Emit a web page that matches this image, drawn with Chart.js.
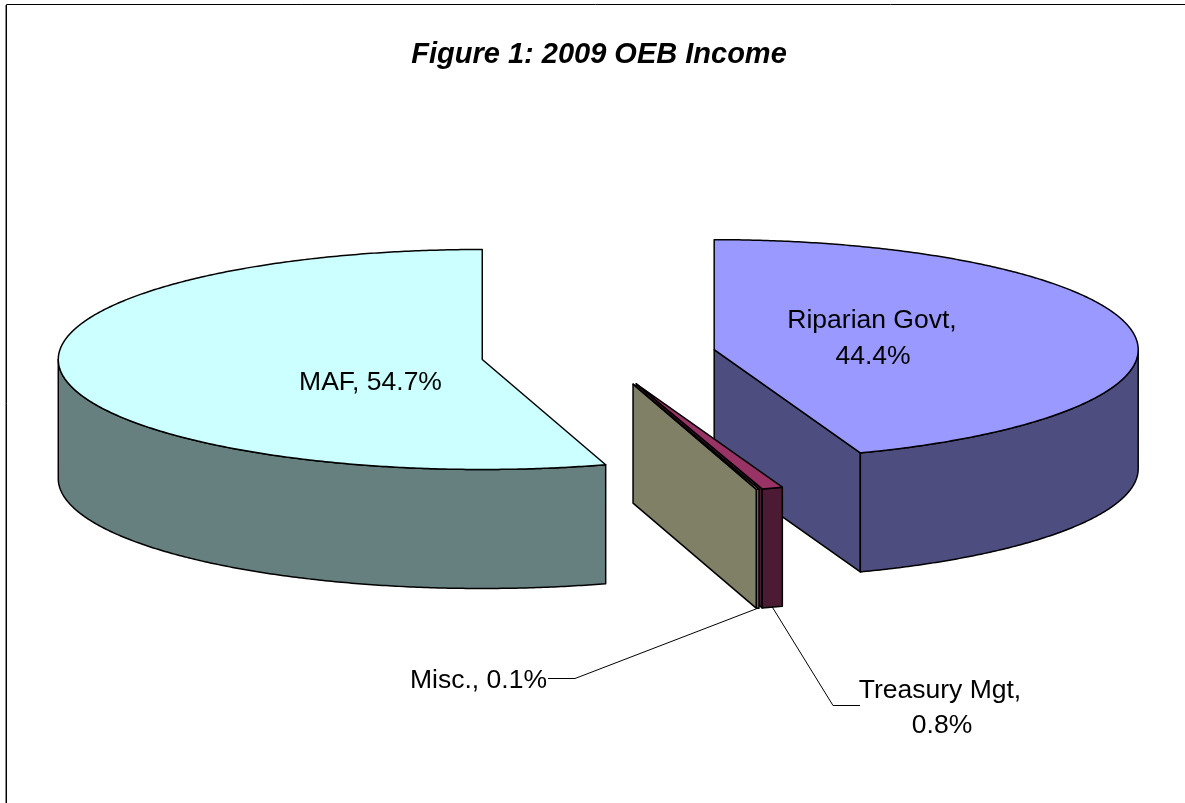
<!DOCTYPE html>
<html>
<head>
<meta charset="utf-8">
<style>html,body{margin:0;padding:0;background:#fff}canvas{display:block}</style>
<script src="https://cdn.jsdelivr.net/npm/chart.js@4"></script>
</head>
<body>
<canvas id="c" width="1185" height="803"></canvas>
<script>
const chartTitle = 'Figure 1: 2009 OEB Income';
const categories = ['Riparian Govt', 'Treasury Mgt', 'Misc.', 'MAF'];
const shares = [44.4, 0.8, 0.1, 54.7];
const topColors = ['#9999FF', '#993366', '#FFFFCC', '#CCFFFF'];
const sideColors = ['#4D4D80', '#4D1A33', '#808066', '#668080'];

// Projection of the flat pie into the tilted view
const view = { cx: 598.5, cy: 355, rx: 424, ry: 110, depth: 119, explode: 117.5 };
const paintOrder = [0, 3, 1, 2];

// Label placement: text lines (centre x, baseline y) and leader elbows
const labelPlaces = [
  { lines: [[872, 328], [873, 364]], split: true },
  { lines: [[940, 698], [942, 733]], split: true, leader: [[833, 705.5], [860, 705.5]] },
  { lines: [[478.5, 688]], leader: [[575, 678.5], [548, 678.5]] },
  { lines: [[370.5, 390]] }
];

function centreOf(arc) {
  const mid = (arc.startAngle + arc.endAngle) / 2;
  return {
    x: view.cx + view.explode * Math.cos(mid),
    y: view.cy + view.explode * (view.ry / view.rx) * Math.sin(mid)
  };
}
function pt(c, a, drop) {
  return [c.x + view.rx * Math.cos(a), c.y + view.ry * Math.sin(a) + (drop || 0)];
}
function sidePath(ctx, pts, fill) {
  ctx.beginPath();
  pts.forEach((p, i) => i ? ctx.lineTo(p[0], p[1]) : ctx.moveTo(p[0], p[1]));
  ctx.closePath();
  ctx.fillStyle = fill;
  ctx.fill();
  ctx.stroke();
}
function drawSides(ctx, arc, color) {
  const c = centreOf(arc);
  const s = arc.startAngle, e = arc.endAngle;
  // faces cut along the radius, when they turn towards the viewer
  if (Math.sin(e) > 0 || Math.cos(e) < 0 && Math.sin(e) > -0.01) {
    const p = pt(c, e), q = pt(c, e, view.depth);
    sidePath(ctx, [[c.x, c.y], p, q, [c.x, c.y + view.depth]], color);
  }
  // outer rim, front half only
  const from = Math.max(s, 0), to = Math.min(e, Math.PI);
  if (to > from) {
    const top = [], bottom = [];
    const n = Math.max(4, Math.ceil((to - from) * 120));
    for (let i = 0; i <= n; i++) {
      const a = from + (to - from) * i / n;
      top.push(pt(c, a));
      bottom.unshift(pt(c, a, view.depth));
    }
    sidePath(ctx, top.concat(bottom), color);
  }
}
function outlineTop(ctx, arc) {
  const c = centreOf(arc);
  const n = Math.max(4, Math.ceil((arc.endAngle - arc.startAngle) * 120));
  ctx.beginPath();
  ctx.moveTo(c.x, c.y);
  for (let i = 0; i <= n; i++) {
    const p = pt(c, arc.startAngle + (arc.endAngle - arc.startAngle) * i / n);
    ctx.lineTo(p[0], p[1]);
  }
  ctx.closePath();
  ctx.stroke();
}

const pie3d = {
  id: 'pie3d',
  beforeDatasetDraw(chart, args) {
    const ctx = chart.ctx;
    const arcs = chart.getDatasetMeta(args.index).data;
    ctx.lineJoin = 'round';
    paintOrder.forEach(i => {
      const arc = arcs[i];
      ctx.strokeStyle = '#000';
      ctx.lineWidth = 1.5;
      drawSides(ctx, arc, sideColors[i]);
      const c = centreOf(arc);
      ctx.save();
      ctx.translate(c.x, c.y);
      ctx.scale(view.rx / arc.outerRadius, view.ry / arc.outerRadius);
      ctx.translate(-arc.x, -arc.y);
      arc.draw(ctx);
      ctx.restore();
      outlineTop(ctx, arc);
    });
    return false;
  },
  afterDraw(chart) {
    const ctx = chart.ctx;
    const arcs = chart.getDatasetMeta(0).data;
    ctx.save();
    // outer frame
    ctx.strokeStyle = '#000';
    ctx.lineWidth = 1;
    ctx.beginPath();
    ctx.moveTo(1185, 4.5); ctx.lineTo(6.5, 4.5); ctx.lineTo(6.5, 803);
    ctx.stroke();
    ctx.strokeStyle = '#888';
    ctx.beginPath();
    ctx.moveTo(5.5, 5); ctx.lineTo(5.5, 803);
    ctx.stroke();
    // leaders and labels
    ctx.strokeStyle = '#000';
    ctx.lineWidth = 1;
    ctx.fillStyle = '#000';
    ctx.font = '26.5px "Liberation Sans", Arial, sans-serif';
    ctx.textAlign = 'center';
    ctx.textBaseline = 'alphabetic';
    labelPlaces.forEach((place, i) => {
      if (place.leader) {
        const arc = arcs[i];
        const mid = (arc.startAngle + arc.endAngle) / 2;
        const a = pt(centreOf(arc), mid, view.depth);
        ctx.beginPath();
        ctx.moveTo(a[0], a[1]);
        place.leader.forEach(p => ctx.lineTo(p[0], p[1]));
        ctx.stroke();
      }
      const parts = place.split
        ? [categories[i] + ',', shares[i].toFixed(1) + '%']
        : [categories[i] + ', ' + shares[i].toFixed(1) + '%'];
      parts.forEach((t, k) => ctx.fillText(t, place.lines[k][0], place.lines[k][1]));
    });
    ctx.restore();
  }
};

new Chart(document.getElementById('c'), {
  type: 'pie',
  data: {
    labels: categories,
    datasets: [{
      data: shares,
      backgroundColor: topColors,
      borderWidth: 0,
      hoverOffset: 0
    }]
  },
  options: {
    responsive: false,
    animation: false,
    events: [],
    layout: { padding: { left: 13 } },
    plugins: {
      legend: { display: false },
      tooltip: { enabled: false },
      title: {
        display: true,
        text: chartTitle,
        color: '#000',
        font: { family: '"Liberation Sans", Arial, sans-serif', size: 29, weight: 'bold', style: 'italic', lineHeight: 1.2 },
        padding: { top: 38, bottom: 10 }
      }
    }
  },
  plugins: [pie3d]
});
</script>
</body>
</html>
